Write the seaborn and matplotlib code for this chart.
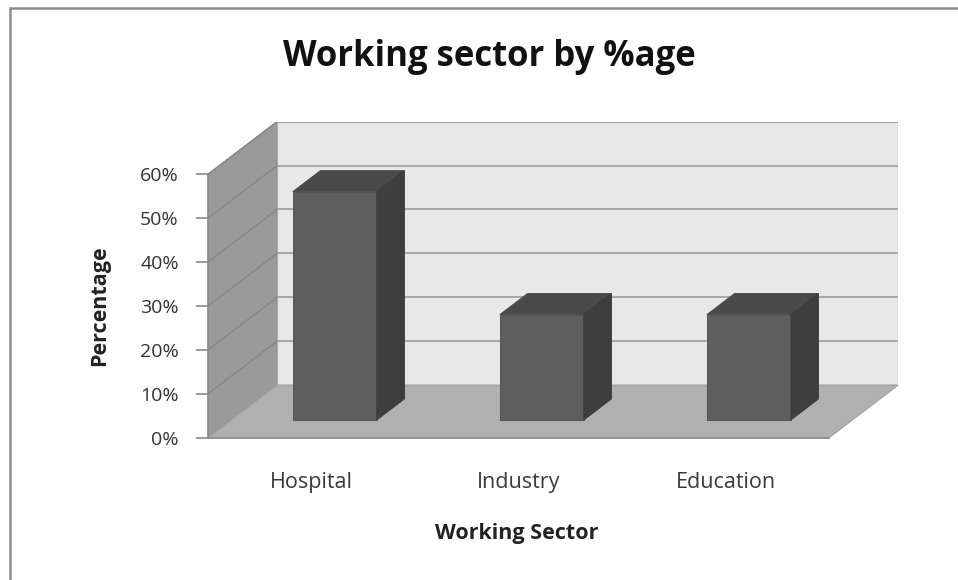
import matplotlib.pyplot as plt
from matplotlib.patches import Polygon, Rectangle
import seaborn as sns

# chart data
sectors = ['Hospital', 'Industry', 'Education']
percent = [52, 24, 24]
y_ticks = [0, 10, 20, 30, 40, 50, 60]
y_tick_labels = ['0%', '10%', '20%', '30%', '40%', '50%', '60%']

sns.set_theme(style='white')
plt.rcParams['font.family'] = ['Open Sans', 'DejaVu Sans']

# fake 3d: depth offset of the walls, in data units
DX = 0.334
DY = 12.0
bar_front = 0.336  # where the bar front face sits inside the depth
bar_depth = 0.40
ymax = y_ticks[-1]

fig = plt.figure(figsize=(9.58, 5.8), dpi=100)
ax = fig.add_axes([208 / 958, (580 - 437.7) / 580, (898.3 - 208) / 958, (437.7 - 121.6) / 580])

sns.barplot(x=sectors, y=percent, color='#5e5e5e', saturation=1, width=0.406,
            edgecolor='#4a4a4a', linewidth=0.6, ax=ax, zorder=4)

n = len(sectors)
x0, x1 = -0.5, n - 0.5

# side wall, back wall, floor
ax.add_patch(Polygon([(x0, 0), (x0 + DX, DY), (x0 + DX, ymax + DY), (x0, ymax)],
                     closed=True, facecolor='#9a9a9a', edgecolor='#8a8a8a', lw=0.8, zorder=0))
ax.add_patch(Polygon([(x0 + DX, DY), (x1 + DX, DY), (x1 + DX, ymax + DY), (x0 + DX, ymax + DY)],
                     closed=True, facecolor='#e8e8e8', edgecolor='#b0b0b0', lw=0.8, zorder=0))
ax.add_patch(Polygon([(x0, 0), (x1, 0), (x1 + DX, DY), (x0 + DX, DY)],
                     closed=True, facecolor='#b0b0b0', edgecolor='#a0a0a0', lw=0.8, zorder=1))

# gridlines on back wall + side wall
for v in y_ticks[1:]:
    ax.plot([x0 + DX, x1 + DX], [v + DY, v + DY], color='#a3a3a3', lw=1.3, zorder=2)
    ax.plot([x0, x0 + DX], [v, v + DY], color='#858585', lw=1.0, zorder=2)

# move bar fronts into the floor and add top / side faces
for p in ax.patches[:]:
    if not isinstance(p, Rectangle):
        continue
    bx = p.get_x() + bar_front * DX
    by = bar_front * DY
    w = p.get_width()
    h = p.get_height()
    p.set_x(bx)
    p.set_y(by)
    ddx, ddy = bar_depth * DX, bar_depth * DY
    top = Polygon([(bx, by + h), (bx + w, by + h), (bx + w + ddx, by + h + ddy), (bx + ddx, by + h + ddy)],
                  closed=True, facecolor='#4a4a4a', edgecolor='#444444', lw=0.6, zorder=4)
    side = Polygon([(bx + w, by), (bx + w + ddx, by + ddy), (bx + w + ddx, by + h + ddy), (bx + w, by + h)],
                   closed=True, facecolor='#3e3e3e', edgecolor='#383838', lw=0.6, zorder=4)
    ax.add_patch(top)
    ax.add_patch(side)

ax.set_xlim(x0, x1 + DX)
ax.set_ylim(0, ymax + DY)
ax.set_yticks(y_ticks, y_tick_labels)
ax.set_xlabel('')
ax.set_ylabel('')

for s in ['top', 'right']:
    ax.spines[s].set_visible(False)
ax.spines['left'].set_bounds(0, ymax)
ax.spines['bottom'].set_bounds(x0, x1)
ax.spines['left'].set_color('#8a8a8a')
ax.spines['bottom'].set_color('#8a8a8a')
ax.spines['left'].set_zorder(3)
ax.tick_params(axis='y', length=9, width=1.2, color='#8a8a8a', direction='out', pad=12,
               labelsize=14, labelcolor='#333333', left=True)
ax.tick_params(axis='x', length=0, pad=25, labelsize=15.5, labelcolor='#3a3a3a')
ax.patch.set_alpha(0)

fig.text(489 / 958, 1 - 57 / 580, 'Working sector by %age', ha='center', va='center',
         fontsize=25, fontweight='bold', color='#111111')
fig.text(100 / 958, 1 - 306 / 580, 'Percentage', rotation=90, ha='center', va='center',
         fontsize=15.5, fontweight='bold', color='#222222')
fig.text(517 / 958, 1 - 533 / 580, 'Working Sector', ha='center', va='center',
         fontsize=15.5, fontweight='bold', color='#222222')

# outer chart frame (only top and left edge visible)
fig.patches.append(Rectangle((10 / 958, -0.1), 1.2, 1 - 8 / 580 + 0.1, transform=fig.transFigure,
                             fill=False, edgecolor='#8c8c8c', lw=1.8))

fig.savefig('out.png', dpi=100)
